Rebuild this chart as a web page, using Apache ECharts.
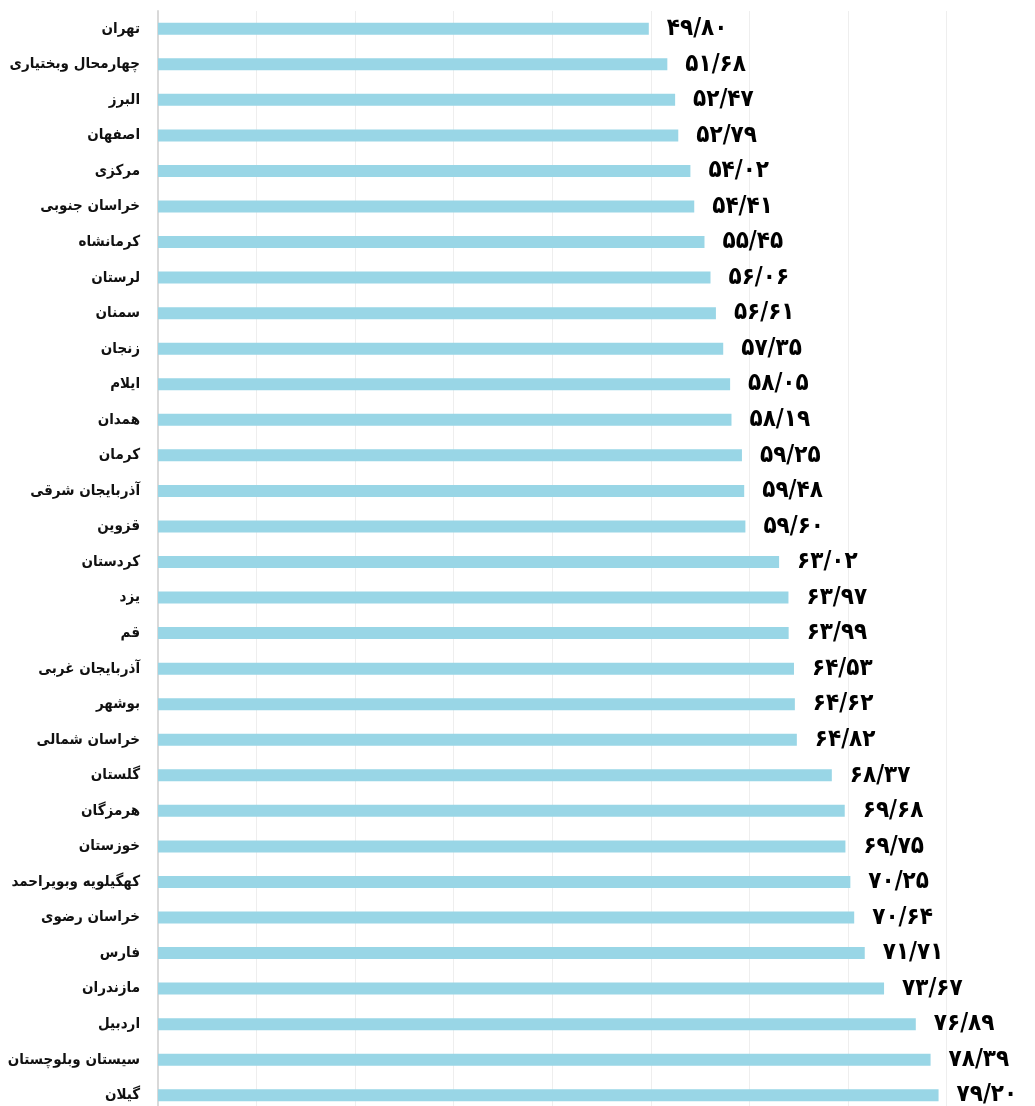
<!DOCTYPE html>
<html>
<head>
<meta charset="utf-8">
<script src="https://cdn.jsdelivr.net/npm/echarts@6/dist/echarts.min.js"></script>
<style>
html,body{margin:0;padding:0;background:#fff;overflow:hidden;}
#chart{width:1035px;height:1106px;}
</style>
</head>
<body>
<div id="chart"></div>
<script>
const provinces = ["تهران","چهارمحال وبختیاری","البرز","اصفهان","مرکزی","خراسان جنوبی","کرمانشاه","لرستان","سمنان","زنجان","ایلام","همدان","کرمان","آذربایجان شرقی","قزوین","کردستان","یزد","قم","آذربایجان غربی","بوشهر","خراسان شمالی","گلستان","هرمزگان","خوزستان","کهگیلویه وبویراحمد","خراسان رضوی","فارس","مازندران","اردبیل","سیستان وبلوچستان","گیلان"];
const values = [49.80,51.68,52.47,52.79,54.02,54.41,55.45,56.06,56.61,57.35,58.05,58.19,59.25,59.48,59.60,63.02,63.97,63.99,64.53,64.62,64.82,68.37,69.68,69.75,70.25,70.64,71.71,73.67,76.89,78.39,79.20];

const faDigits = ['۰','۱','۲','۳','۴','۵','۶','۷','۸','۹'];
function toFa(v){
  return v.toFixed(2).replace('.', '/').replace(/[0-9]/g, d => faDigits[+d]);
}

const chart = echarts.init(document.getElementById('chart'));
chart.setOption({
  animation:false,
  grid:{left:158, top:11, width:887, height:1102, outerBoundsMode:'none', containLabel:false},
  xAxis:{
    type:'value', min:0, max:90, interval:10,
    axisLine:{show:false}, axisTick:{show:false}, axisLabel:{show:false},
    splitLine:{show:true, lineStyle:{color:'#eeeeee', width:1}}
  },
  yAxis:{
    type:'category', data:provinces, inverse:true,
    axisLine:{show:true, lineStyle:{color:'#d9d9d9', width:2}},
    axisTick:{show:false},
    axisLabel:{margin:18, fontFamily:'DejaVu Sans Condensed', fontWeight:'bold', fontSize:15, color:'#111'}
  },
  series:[{
    type:'bar', data:values, barWidth:12,
    itemStyle:{color:'#99d6e6'},
    label:{show:true, position:'right', distance:18, fontFamily:'DejaVu Sans Condensed', fontWeight:'bold', fontSize:24, color:'#000',
      formatter:p => toFa(p.value)}
  }]
});
</script>
</body>
</html>
